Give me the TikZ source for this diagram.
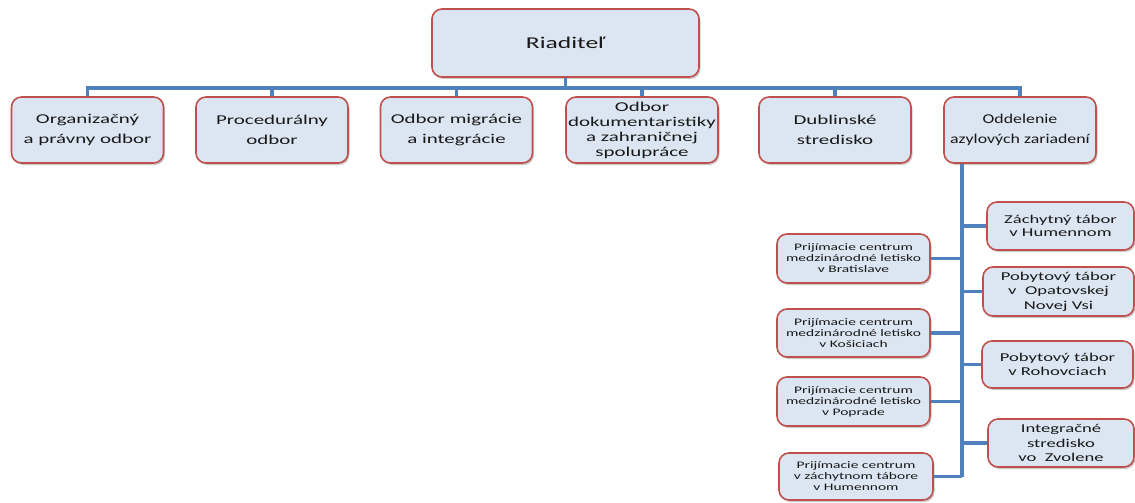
\documentclass[tikz,border=0pt]{standalone}
\usepackage{fontspec}
\setmainfont{Carlito}[FakeStretch=1.55]
\newfontfamily\narrowcarlito{Carlito}[FakeStretch=1.32]
\usetikzlibrary{shadows,calc}
\definecolor{boxfill}{HTML}{DCE6F2}
\definecolor{boxline}{HTML}{C0504D}
\definecolor{conn}{HTML}{4F81BD}
\begin{document}
\begin{tikzpicture}[x=1pt,y=1pt,
  orgbox/.style={draw=boxline, line width=1.6pt, fill=boxfill, rounded corners=10pt,
    align=center, inner sep=0.5pt, text=black!90,
    drop shadow={shadow xshift=1.5pt, shadow yshift=-2pt, opacity=0.35, fill=black!60}},
  rootbox/.style={orgbox, minimum width=267pt, minimum height=68pt, font=\fontsize{16.5}{19}\selectfont},
  topbox/.style={orgbox, minimum width=152pt, minimum height=66pt, font=\fontsize{13.5}{20}\selectfont},
  rbox/.style={orgbox, minimum height=48pt, font=\fontsize{12}{13.5}\selectfont},
  lbox/.style={orgbox, minimum height=48pt, font=\fontsize{10}{11}\selectfont},
  link/.style={draw=conn, line width=3.1pt}]
\useasboundingbox (0,0) rectangle (1135,-503);
\coordinate (busy) at (0,-88);
\coordinate (sp) at (962,0);
\node[rootbox] (root) at (565.5,-43) {Riaditeľ};
\node[topbox] (b1) at (87.5,-130) {Organizačný\\a právny odbor};
\node[topbox] (b2) at (272,-130) {Procedurálny\\odbor};
\node[topbox] (b3) at (456.5,-130) {Odbor migrácie\\a integrácie};
\node[topbox, font=\fontsize{13.5}{15}\selectfont] (b4) at (642,-130) {Odbor\\dokumentaristiky\\a zahraničnej\\spolupráce};
\node[topbox] (b5) at (835,-130) {Dublinské\\stredisko};
\node[topbox, font=\narrowcarlito\fontsize{13.5}{20}\selectfont] (b6) at (1020,-130) {Oddelenie\\azylových zariadení};
\node[rbox, minimum width=147pt] (r1) at (1060.5,-226) {Záchytný tábor\\v Humennom};
\node[rbox, minimum width=151pt, minimum height=49pt, font=\fontsize{12}{14.5}\selectfont] (r2) at (1058.5,-291.5) {Pobytový tábor\\v\ \ Opatovskej\\Novej Vsi};
\node[rbox, minimum width=151pt, minimum height=47pt] (r3) at (1057.5,-364.5) {Pobytový tábor\\v Rohovciach};
\node[rbox, minimum width=146pt, font=\fontsize{12}{14.5}\selectfont] (r4) at (1061,-443) {Integračné\\stredisko\\vo\ \ Zvolene};
\node[lbox, minimum width=153pt, minimum height=49pt] (l1) at (853.5,-258.5) {Prijímacie centrum\\medzinárodné letisko\\v Bratislave};
\node[lbox, minimum width=153pt] (l2) at (853.5,-333) {Prijímacie centrum\\medzinárodné letisko\\v Košiciach};
\node[lbox, minimum width=153pt, minimum height=49pt] (l3) at (853.5,-401.5) {Prijímacie centrum\\medzinárodné letisko\\v Poprade};
\node[lbox, minimum width=154pt, minimum height=47pt] (l4) at (856,-476.5) {Prijímacie centrum\\v záchytnom tábore\\v Humennom};
\draw[link] (root.south) -- (root.south |- busy);
\draw[link] (b1.north) -- (b1.north |- busy) -- (b6.north |- busy) -- (b6.north);
\foreach \b in {b2,b3,b4,b5} \draw[link] (\b.north) -- (\b.north |- busy);
\draw[link] (sp |- b6.south) -- (sp |- l4.east);
\foreach \n in {r1,r2,r3,r4} \draw[link] (\n.west) -- (\n.west -| sp);
\foreach \n in {l1,l2,l3,l4} \draw[link] (\n.east) -- (\n.east -| sp);
\end{tikzpicture}
\end{document}
